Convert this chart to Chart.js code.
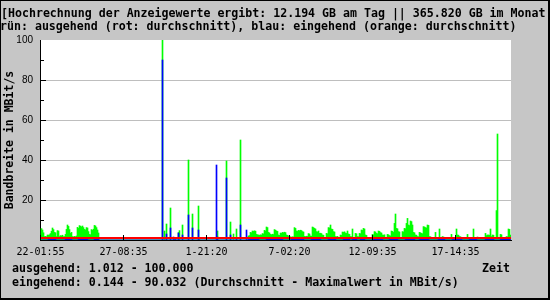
<!DOCTYPE html>
<html>
<head>
<meta charset="utf-8">
<script src="https://cdn.jsdelivr.net/npm/chart.js@4"></script>
<style>
  body { margin: 0; background: #fff; }
  #wrap { position: relative; width: 550px; height: 300px; background: #c6c6c6; overflow: hidden; }
  #c { position: absolute; left: 0; top: 0; }
  .txt { position: absolute; font: bold 11.6px "DejaVu Sans Mono", monospace; line-height: 14px; color: #000; white-space: pre; }
  #frame { position: absolute; left: 0; top: 0; width: 550px; height: 300px; box-sizing: border-box;
           border: 1px solid #000; border-right-width: 2px; border-bottom-width: 2px; }
</style>
</head>
<body>
<div id="wrap">
  <canvas id="c" width="550" height="300"></canvas>
  <div class="txt" style="left:1px; top:6px">[Hochrechnung der Anzeigewerte ergibt: 12.194 GB am Tag || 365.820 GB im Monat</div>
  <div class="txt" style="left:0px; top:19px">rün: ausgehend (rot: durchschnitt), blau: eingehend (orange: durchschnitt)</div>
  <div class="txt" style="left:12px; top:261px">ausgehend: 1.012 - 100.000</div>
  <div class="txt" style="left:482px; top:261px">Zeit</div>
  <div class="txt" style="left:12px; top:275px">eingehend: 0.144 - 90.032 (Durchschnitt - Maximalwert in MBit/s)</div>
  <div id="frame"></div>
</div>
<script>
// x tick labels (sample index -> time stamp)
const xTickIdx = [-1, 82, 165, 248, 331, 414];
const xTickLabels = ["22-01:55", "27-08:35", "1-21:20", "7-02:20", "12-09:35", "17-14:35"];

// y ticks, only the 20s get a label
const yTickVals = [0, 10, 20, 30, 40, 50, 60, 70, 80, 90, 100];
const yLabelled = [20, 40, 60, 80, 100];

// averages (MBit/s)
const avgOut = 1.012;

// ausgehend (green), one sample per column
const outgoing = [
  5.7,5.0,3.6,1.7,1.8,1.6,2.5,2.4,2.6,3.2,
  4.4,6.0,5.2,3.8,3.6,1.7,4.7,4.5,1.7,2.2,
  2.0,2.4,1.6,1.7,2.8,5.3,7.5,6.8,5.2,3.3,
  3.8,1.7,1.5,1.8,1.6,2.0,6.3,5.8,7.2,6.9,
  6.5,7.0,6.2,5.3,5.0,6.2,6.0,4.2,2.8,2.6,
  5.2,4.8,5.4,7.3,7.0,6.2,5.0,3.5,0,0,
  0,0,0,0,0,0,0,0,0,0,
  0,0,0,0,0,0,0,0,0,0,
  0,0,0,0,0,0,0,0,0,0,
  0,0,0,0,0,0,0,0,0,0,
  0,0,0,0,0,0,0,0,0,0,
  0,0,0,0,0,0,0,0,0,0,
  0,100,0,4.5,0,8,0,0,0,16,
  0,0,0,1,0,0,0,3.7,4.7,0,
  0,7.5,0,0,0,0,0,40,0,0,
  0,13,0,0,0,0,0,17,1,0,
  0,0,0,0,0,0,0,0,0,0,
  0,0,0,0,0,0,4.5,0,0,0,
  0,0,0,0,0,39.5,0,0,0,9,
  0,0,3,0,0,5.5,0,0,0,50,
  0,0,0,0,0,0,0,2.0,2.2,3.8,
  3.6,4.5,4.3,4.6,4.4,2.8,2.6,2.5,2.3,2.6,
  2.4,3.2,3.0,4.8,4.5,6.5,6.2,3.8,3.5,2.8,
  2.6,2.9,2.7,5.2,4.9,4.5,4.3,2.5,2.3,3.5,
  3.3,3.8,3.6,3.9,3.7,2.5,2.3,2.0,1.9,1.5,
  1.4,1.6,1.5,6.2,5.8,4.5,4.3,4.8,4.6,4.9,
  4.7,4.2,4.0,1.8,1.7,1.9,1.8,3.2,3.0,2.0,
  1.9,6.5,6.2,5.8,5.5,4.2,4.0,4.5,3.3,3.4,
  3.2,2.5,2.4,1.0,1.1,3.3,3.1,6.2,6.0,7.5,
  5.5,5.3,4.2,4.0,1.7,1.6,1.8,1.0,1.1,2.5,
  2.3,4.0,3.8,4.1,3.5,3.3,4.5,3.0,2.8,1.7,
  1.6,5.5,1.0,1.1,3.3,3.1,1.7,1.6,3.3,3.1,
  5.0,4.8,5.8,5.5,2.5,2.3,1.2,1.1,1.3,0.8,
  0.9,2.8,2.6,4.2,4.0,3.3,3.1,4.5,4.3,3.7,
  3.5,2.5,2.4,2.6,1.2,1.1,2.8,2.6,2.2,2.0,
  4.5,4.3,3.8,8.3,13.0,5.8,5.6,4.2,4.0,1.2,
  1.1,4.2,4.0,5.8,5.6,8.3,10.8,7.5,7.2,9.5,
  9.2,7.5,3.8,3.6,2.5,2.4,1.7,1.6,3.8,3.6,
  3.3,3.1,6.7,6.5,6.2,6.0,7.5,7.3,1.7,1.6,
  0.8,0.8,0.7,0.8,3.8,0.5,0.5,0.6,5.5,1.2,
  1.1,1.7,1.5,0.5,0.5,0.5,0.5,0.5,0.5,0.5,
  2.8,0.8,0.8,0.8,0.8,5.5,2.5,2.4,1.7,1.6,
  0.5,0.5,0.5,0.5,0.5,0.5,2.8,0.8,0.8,0.8,
  0.8,0.8,5.5,1.2,1.2,0.8,1.5,0.8,0.5,0.5,
  0.5,0.5,0.5,0.5,3.3,2.2,2.5,2.5,2.4,5.5,
  1.7,2.5,2.4,0.5,0.5,14.7,53,1.0,1.0,2.8,
  2.6,0.5,0.5,0.5,0.5,1.7,1.6,5.5,5.3,2.5
];

// eingehend (blue), one sample per column
const incoming = [
  0,0,0,0,0,0,0,.7,.7,.7,
  .7,.7,.7,.7,.7,0,0,0,0,0,
  0,0,0,0,.7,.7,.7,.7,.7,.7,
  .7,0,0,0,0,0,0,.7,.7,.7,
  .7,.7,.7,.7,.7,.7,.7,0,0,0,
  0,0,0,.7,.7,.7,.7,.7,0,0,
  0,0,0,0,0,0,0,0,0,0,
  0,0,0,0,0,0,0,0,0,0,
  0,0,0,0,0,0,0,0,0,0,
  0,0,0,0,0,0,0,0,0,0,
  0,0,0,0,0,0,0,0,0,0,
  0,0,0,0,0,0,0,0,0,0,
  0,90,0,0,0,3,0,0,0,6,
  0,0,1.5,0,1,0,0,3.5,0,0,
  0,2.5,0,0,0,0,0,12.5,0,0,
  0,6,0,0,0,0,0,5,0,0,
  0,0,0,0,0,0,0,0,0,0,
  0,0,0,0,0,37.5,1.5,0,0,0,
  0,0,0,0,0,31,0,0,0,2.5,
  0,0,0,0,0,.7,0,0,0,7.5,
  0,0,0,0,0,5,0,.7,.7,.7,
  .7,.7,.7,.7,.7,.7,.7,.7,0,0,
  0,0,0,0,0,.7,.7,.7,.7,.7,
  .7,.7,.7,.7,.7,.7,.7,.7,.7,.7,
  .7,.7,0,0,0,0,0,0,0,0,
  .7,.7,.7,.7,.7,.7,.7,.7,.7,.7,
  .7,.7,.7,0,0,0,0,0,0,0,
  .7,.7,.7,.7,.7,.7,.7,.7,.7,.7,
  0,0,0,0,0,0,0,.7,.7,.7,
  .7,.7,.7,.7,.7,0,0,0,0,0,
  0,0,.7,.7,.7,.7,.7,.7,.7,0,
  0,.7,.7,.7,.7,.7,0,0,0,.7,
  .7,.7,.7,.7,0,0,0,0,0,0,
  0,.7,.7,.7,.7,.7,.7,.7,.7,.7,
  .7,.7,0,0,0,0,0,0,.7,.7,
  .7,.7,.7,.7,.7,.7,.7,0,0,0,
  0,0,0,0,.7,.7,.7,.7,.7,.7,
  .7,.7,.7,.7,0,0,0,0,.7,.7,
  .7,.7,.7,.7,.7,.7,.7,.7,0,0,
  0,0,0,0,0,0,0,.7,.7,.7,
  .7,.7,.7,.7,0,0,0,0,0,0,
  0,.7,.7,.7,.7,.7,.7,.7,.7,.7,
  .7,0,0,0,0,0,0,0,.7,.7,
  .7,.7,.7,.7,.7,.7,0,0,0,0,
  0,0,0,0,.7,.7,.7,.7,.7,.7,
  .7,.7,.7,0,0,0,0,0,0,.7,
  .7,.7,.7,.7,.7,.7,.7,.7,.7,.7
];

const xMin = -1.5, xMax = outgoing.length - 0.5;

// white plot background
const plotBg = {
    id: "plotBg",
    beforeDraw(chart) {
        const { ctx, chartArea: a } = chart;
        ctx.save();
        ctx.fillStyle = "#ffffff";
        ctx.fillRect(a.left, a.top, a.right - a.left, a.bottom - a.top);
        ctx.restore();
    }
};

// short black ticks drawn inside the plot
const innerTicks = {
    id: "innerTicks",
    afterDatasetsDraw(chart) {
        const { ctx, chartArea: a, scales: { x, y } } = chart;
        ctx.save();
        ctx.strokeStyle = "#000";
        ctx.lineWidth = 1;
        ctx.beginPath();
        x.ticks.forEach(t => {
            const px = Math.floor(x.getPixelForValue(t.value)) + 0.5;
            ctx.moveTo(px, a.bottom);
            ctx.lineTo(px, a.bottom - 5);
        });
        y.ticks.forEach(t => {
            if (t.value <= 0 || t.value >= 100) return;
            const py = Math.round(y.getPixelForValue(t.value) - 0.5) + 0.5;
            const len = t.value % 20 === 0 ? 6 : 4;
            ctx.moveTo(a.left, py);
            ctx.lineTo(a.left + len, py);
        });
        ctx.stroke();
        ctx.restore();
    }
};

new Chart(document.getElementById("c"), {
    type: "bar",
    data: {
        datasets: [
            {
                type: "line",
                data: [{ x: xMin, y: avgOut }, { x: xMax, y: avgOut }],
                borderColor: "#ff0000",
                borderWidth: 2,
                pointRadius: 0,
                order: 0
            },
            {
                data: incoming.map((v, i) => ({ x: i, y: v })),
                backgroundColor: "#0000ff",
                barThickness: 1,
                grouped: false,
                order: 1
            },
            {
                data: outgoing.map((v, i) => ({ x: i, y: v })),
                backgroundColor: "#00ff00",
                barThickness: 1,
                grouped: false,
                order: 2
            }
        ]
    },
    options: {
        responsive: false,
        animation: false,
        devicePixelRatio: 1,
        layout: { padding: { top: 40, right: 39, left: 0, bottom: 0 } },
        plugins: { legend: { display: false }, tooltip: { enabled: false } },
        scales: {
            x: {
                type: "linear",
                min: xMin,
                max: xMax,
                offset: false,
                afterBuildTicks: s => { s.ticks = xTickIdx.map(v => ({ value: v })); },
                afterFit: s => { s.height = 60; },
                grid: { display: false, drawTicks: false },
                border: { color: "#000", width: 1 },
                ticks: {
                    autoSkip: false,
                    maxRotation: 0,
                    padding: 6,
                    color: "#000",
                    font: { family: "DejaVu Sans Mono", size: 10 },
                    callback: (v, i) => xTickLabels[i]
                }
            },
            y: {
                min: 0,
                max: 100,
                afterBuildTicks: s => { s.ticks = yTickVals.map(v => ({ value: v })); },
                afterFit: s => { s.width = 40; },
                grid: {
                    drawTicks: false,
                    lineWidth: 1,
                    color: c => (c.tick && c.tick.value > 0 && c.tick.value < 100 && c.tick.value % 20 === 0) ? "#bebebe" : "rgba(0,0,0,0)"
                },
                border: { color: "#000", width: 1 },
                ticks: {
                    padding: 7,
                    color: "#000",
                    font: { family: "Liberation Sans", size: 10 },
                    callback: v => yLabelled.includes(v) ? String(v) : ""
                },
                title: {
                    display: true,
                    text: "Bandbreite in MBit/s",
                    color: "#000",
                    font: { family: "DejaVu Sans Mono", size: 11.5, weight: "bold" },
                    padding: { top: 3, bottom: 0 }
                }
            }
        }
    },
    plugins: [plotBg, innerTicks]
});
</script>
</body>
</html>
